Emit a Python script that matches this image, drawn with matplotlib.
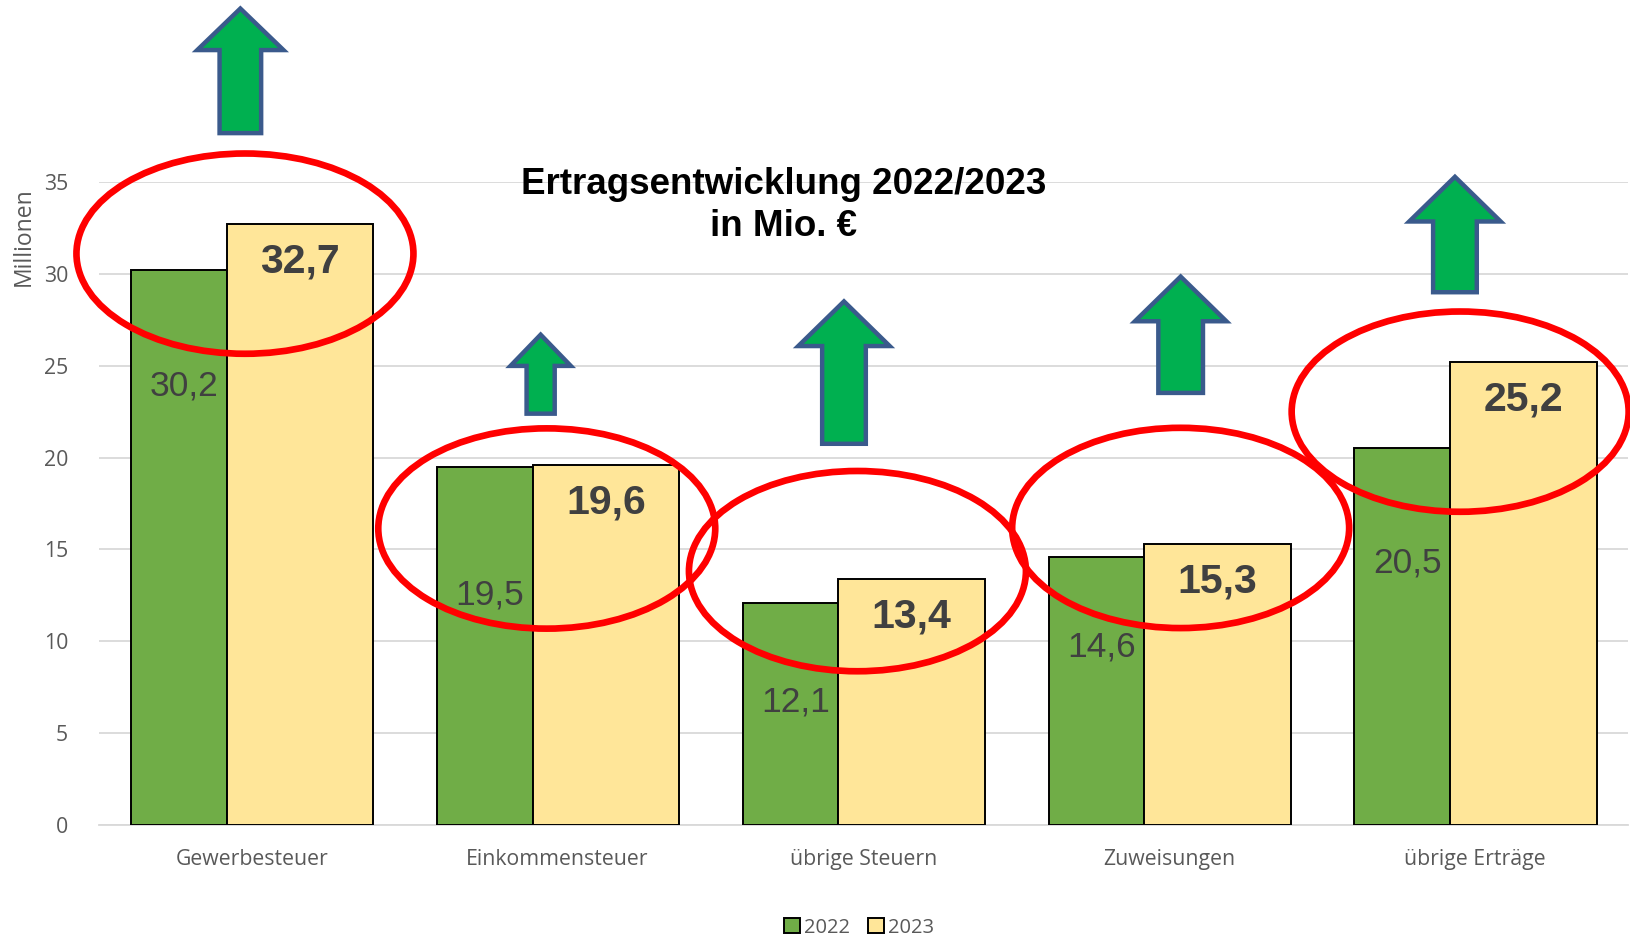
import matplotlib
matplotlib.use("Agg")
import matplotlib.pyplot as plt
from matplotlib.patches import Ellipse, Polygon, Patch
import numpy as np

categories = ["Gewerbesteuer", "Einkommensteuer", "übrige Steuern", "Zuweisungen", "übrige Erträge"]
values_2022 = [30.2, 19.5, 12.1, 14.6, 20.5]
values_2023 = [32.7, 19.6, 13.4, 15.3, 25.2]
labels_2022 = ["30,2", "19,5", "12,1", "14,6", "20,5"]
labels_2023 = ["32,7", "19,6", "13,4", "15,3", "25,2"]
yticks = [0, 5, 10, 15, 20, 25, 30, 35]
title = "Ertragsentwicklung 2022/2023\nin Mio. €"

# layout (annotation decoration)
label2022_offset = [-6.3, -7.0, -5.4, -4.9, -6.25]
# arrows: (x offset from category, tip y, head base y, bottom y, head half width, shaft half width)
arrows = [(-0.037, 44.44, 42.18, 37.66, 0.141, 0.068),
          (-0.055, 26.69, 24.99, 22.39, 0.0986, 0.046),
          (-0.063, 28.50, 26.07, 20.75, 0.1495, 0.0714),
          (0.038, 29.85, 27.42, 23.52, 0.1495, 0.073),
          (-0.065, 35.28, 32.85, 29.0, 0.1495, 0.0714)]
ellipses = [(-0.022, 31.1), (-0.035, 16.14), (-0.019, 13.82), (0.038, 16.17), (-0.048, 22.5)]
ell_w, ell_h = 1.102, 10.9

GREEN = "#70AD47"
YELLOW = "#FFE699"
TICK = "#595959"
LBL = "#404040"

fig = plt.figure(figsize=(16.3, 9.4), dpi=100)
ax = fig.add_axes([0.0606, 0.1223, 0.938, 0.6841])
x = np.arange(len(categories))

g_left, g_w = -0.394, 0.313
y_left, y_w = -0.081, 0.479
ax.bar(x + g_left, values_2022, width=g_w, align="edge", color=GREEN,
       edgecolor="black", linewidth=1.4, zorder=3)
ax.bar(x + y_left, values_2023, width=y_w, align="edge", color=YELLOW,
       edgecolor="black", linewidth=1.4, zorder=3)

for i in range(len(categories)):
    ax.text(x[i] + g_left + g_w / 2 + 0.017, values_2022[i] + label2022_offset[i], labels_2022[i],
            ha="center", va="center", fontsize=25.5, color=LBL, family="Liberation Sans", zorder=5)
    ax.text(x[i] + y_left + y_w / 2, values_2023[i] - 2.05, labels_2023[i],
            ha="center", va="center", fontsize=29.5, fontweight="bold", color=LBL,
            family="Liberation Sans", zorder=5)

for i, (dx, tip, base, bot, hw, sw) in enumerate(arrows):
    cx = x[i] + dx
    pts = [(cx, tip), (cx + hw, base), (cx + sw, base), (cx + sw, bot),
           (cx - sw, bot), (cx - sw, base), (cx - hw, base)]
    ax.add_patch(Polygon(pts, closed=True, facecolor="#00B050", edgecolor="#3A5A8C",
                         linewidth=3.2, joinstyle="miter", clip_on=False, zorder=6))

for i, (dx, cy) in enumerate(ellipses):
    ax.add_patch(Ellipse((x[i] + dx, cy), ell_w, ell_h, facecolor="none", edgecolor="#FF0000",
                         linewidth=4.8, clip_on=False, zorder=7))

ax.set_xlim(-0.5, 4.5)
ax.set_ylim(0, 35)
ax.set_yticks(yticks)
ax.set_xticks(x)
ax.set_xticklabels(categories)
ax.grid(axis="y", color="#D9D9D9", linewidth=1.3, zorder=0)
ax.set_axisbelow(True)
for s in ["top", "right", "left"]:
    ax.spines[s].set_visible(False)
ax.spines["bottom"].set_color("#D9D9D9")
ax.spines["bottom"].set_linewidth(1.3)
ax.tick_params(axis="both", length=0, colors=TICK, labelsize=15.3)
ax.tick_params(axis="y", pad=22)
ax.tick_params(axis="x", pad=17)
for t in ax.get_xticklabels() + ax.get_yticklabels():
    t.set_family("Open Sans")

fig.text(0.0145, 0.748, "Millionen", rotation=90, ha="center", va="center",
         fontsize=16.5, color=TICK, family="Open Sans")

fig.text(0.4805, 0.781, title, ha="center", va="center", fontsize=26.5, fontweight="bold",
         color="black", family="Liberation Sans", linespacing=1.25)

handles = [Patch(facecolor=GREEN, edgecolor="black", linewidth=1.4, label="2022"),
           Patch(facecolor=YELLOW, edgecolor="black", linewidth=1.4, label="2023")]
leg = fig.legend(handles=handles, loc="center", bbox_to_anchor=(0.527, 0.013), ncol=2,
                 frameon=False, handlelength=0.8, handleheight=0.8, handletextpad=0.2,
                 columnspacing=0.9, prop={"family": "Open Sans", "size": 14.5})
for t in leg.get_texts():
    t.set_color(TICK)

fig.savefig("out.png", dpi=100)
